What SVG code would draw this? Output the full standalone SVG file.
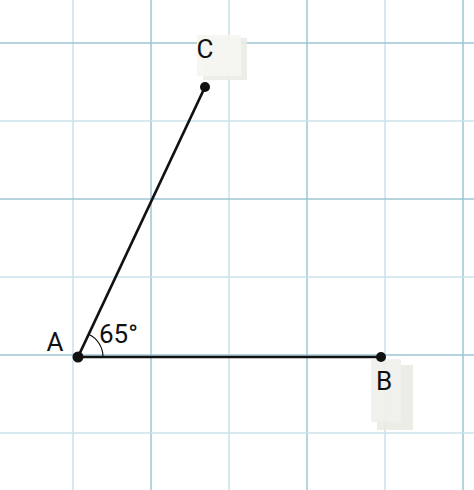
<svg xmlns="http://www.w3.org/2000/svg" width="474" height="490" viewBox="0 0 474 490">
<style>
.gd{stroke:#9cc6d3;stroke-width:1.5}
.gl{stroke:#c9e2ea;stroke-width:1.5}
.seg{stroke:#111;stroke-width:2.7;fill:none}
.lbl{font-family:Roboto,"Liberation Sans",sans-serif;font-size:26px;fill:#111}
.pt{fill:#111}
</style>
<rect width="474" height="490" fill="#ffffff"/>
<g id="grid">
<line class="gl" x1="73" y1="0" x2="73" y2="490"/>
<line class="gd" x1="151" y1="0" x2="151" y2="490"/>
<line class="gl" x1="229" y1="0" x2="229" y2="490"/>
<line class="gd" x1="307" y1="0" x2="307" y2="490"/>
<line class="gl" x1="385" y1="0" x2="385" y2="490"/>
<line class="gd" x1="463" y1="0" x2="463" y2="490"/>
<line class="gd" x1="0" y1="43" x2="474" y2="43"/>
<line class="gl" x1="0" y1="121" x2="474" y2="121"/>
<line class="gd" x1="0" y1="199" x2="474" y2="199"/>
<line class="gl" x1="0" y1="277" x2="474" y2="277"/>
<line class="gd" x1="0" y1="355" x2="474" y2="355"/>
<line class="gl" x1="0" y1="433" x2="474" y2="433"/>
</g>
<g id="connectors">
<line class="seg" x1="78" y1="357" x2="381" y2="357"/>
<line class="seg" x1="78" y1="357" x2="205" y2="87"/>
<path d="M103,357 A25,25 0 0 0 88.6,334.3" fill="none" stroke="#111" stroke-width="1.2"/>
</g>
<g id="C">
<rect x="203" y="38" width="44" height="42" fill="#ebebe7" opacity="0.9"/>
<rect x="197" y="35" width="44" height="41" fill="#f5f5f2" opacity="0.9"/>
<text class="lbl" x="205" y="58" text-anchor="middle">C</text>
<circle class="pt" cx="205" cy="87" r="5"/>
</g>
<g id="B">
<rect x="377" y="365" width="36" height="65" fill="#ebebe5" opacity="0.9"/>
<rect x="371" y="359" width="30" height="63" fill="#f0f0ec" opacity="0.9"/>
<circle class="pt" cx="381" cy="357" r="5"/>
<text class="lbl" x="384" y="390" text-anchor="middle">B</text>
</g>
<g id="A">
<circle class="pt" cx="78" cy="357" r="5.5"/>
<text class="lbl" x="55" y="351" text-anchor="middle">A</text>
</g>
<g id="angle">
<text class="lbl" x="99" y="343">65°</text>
</g>
</svg>
